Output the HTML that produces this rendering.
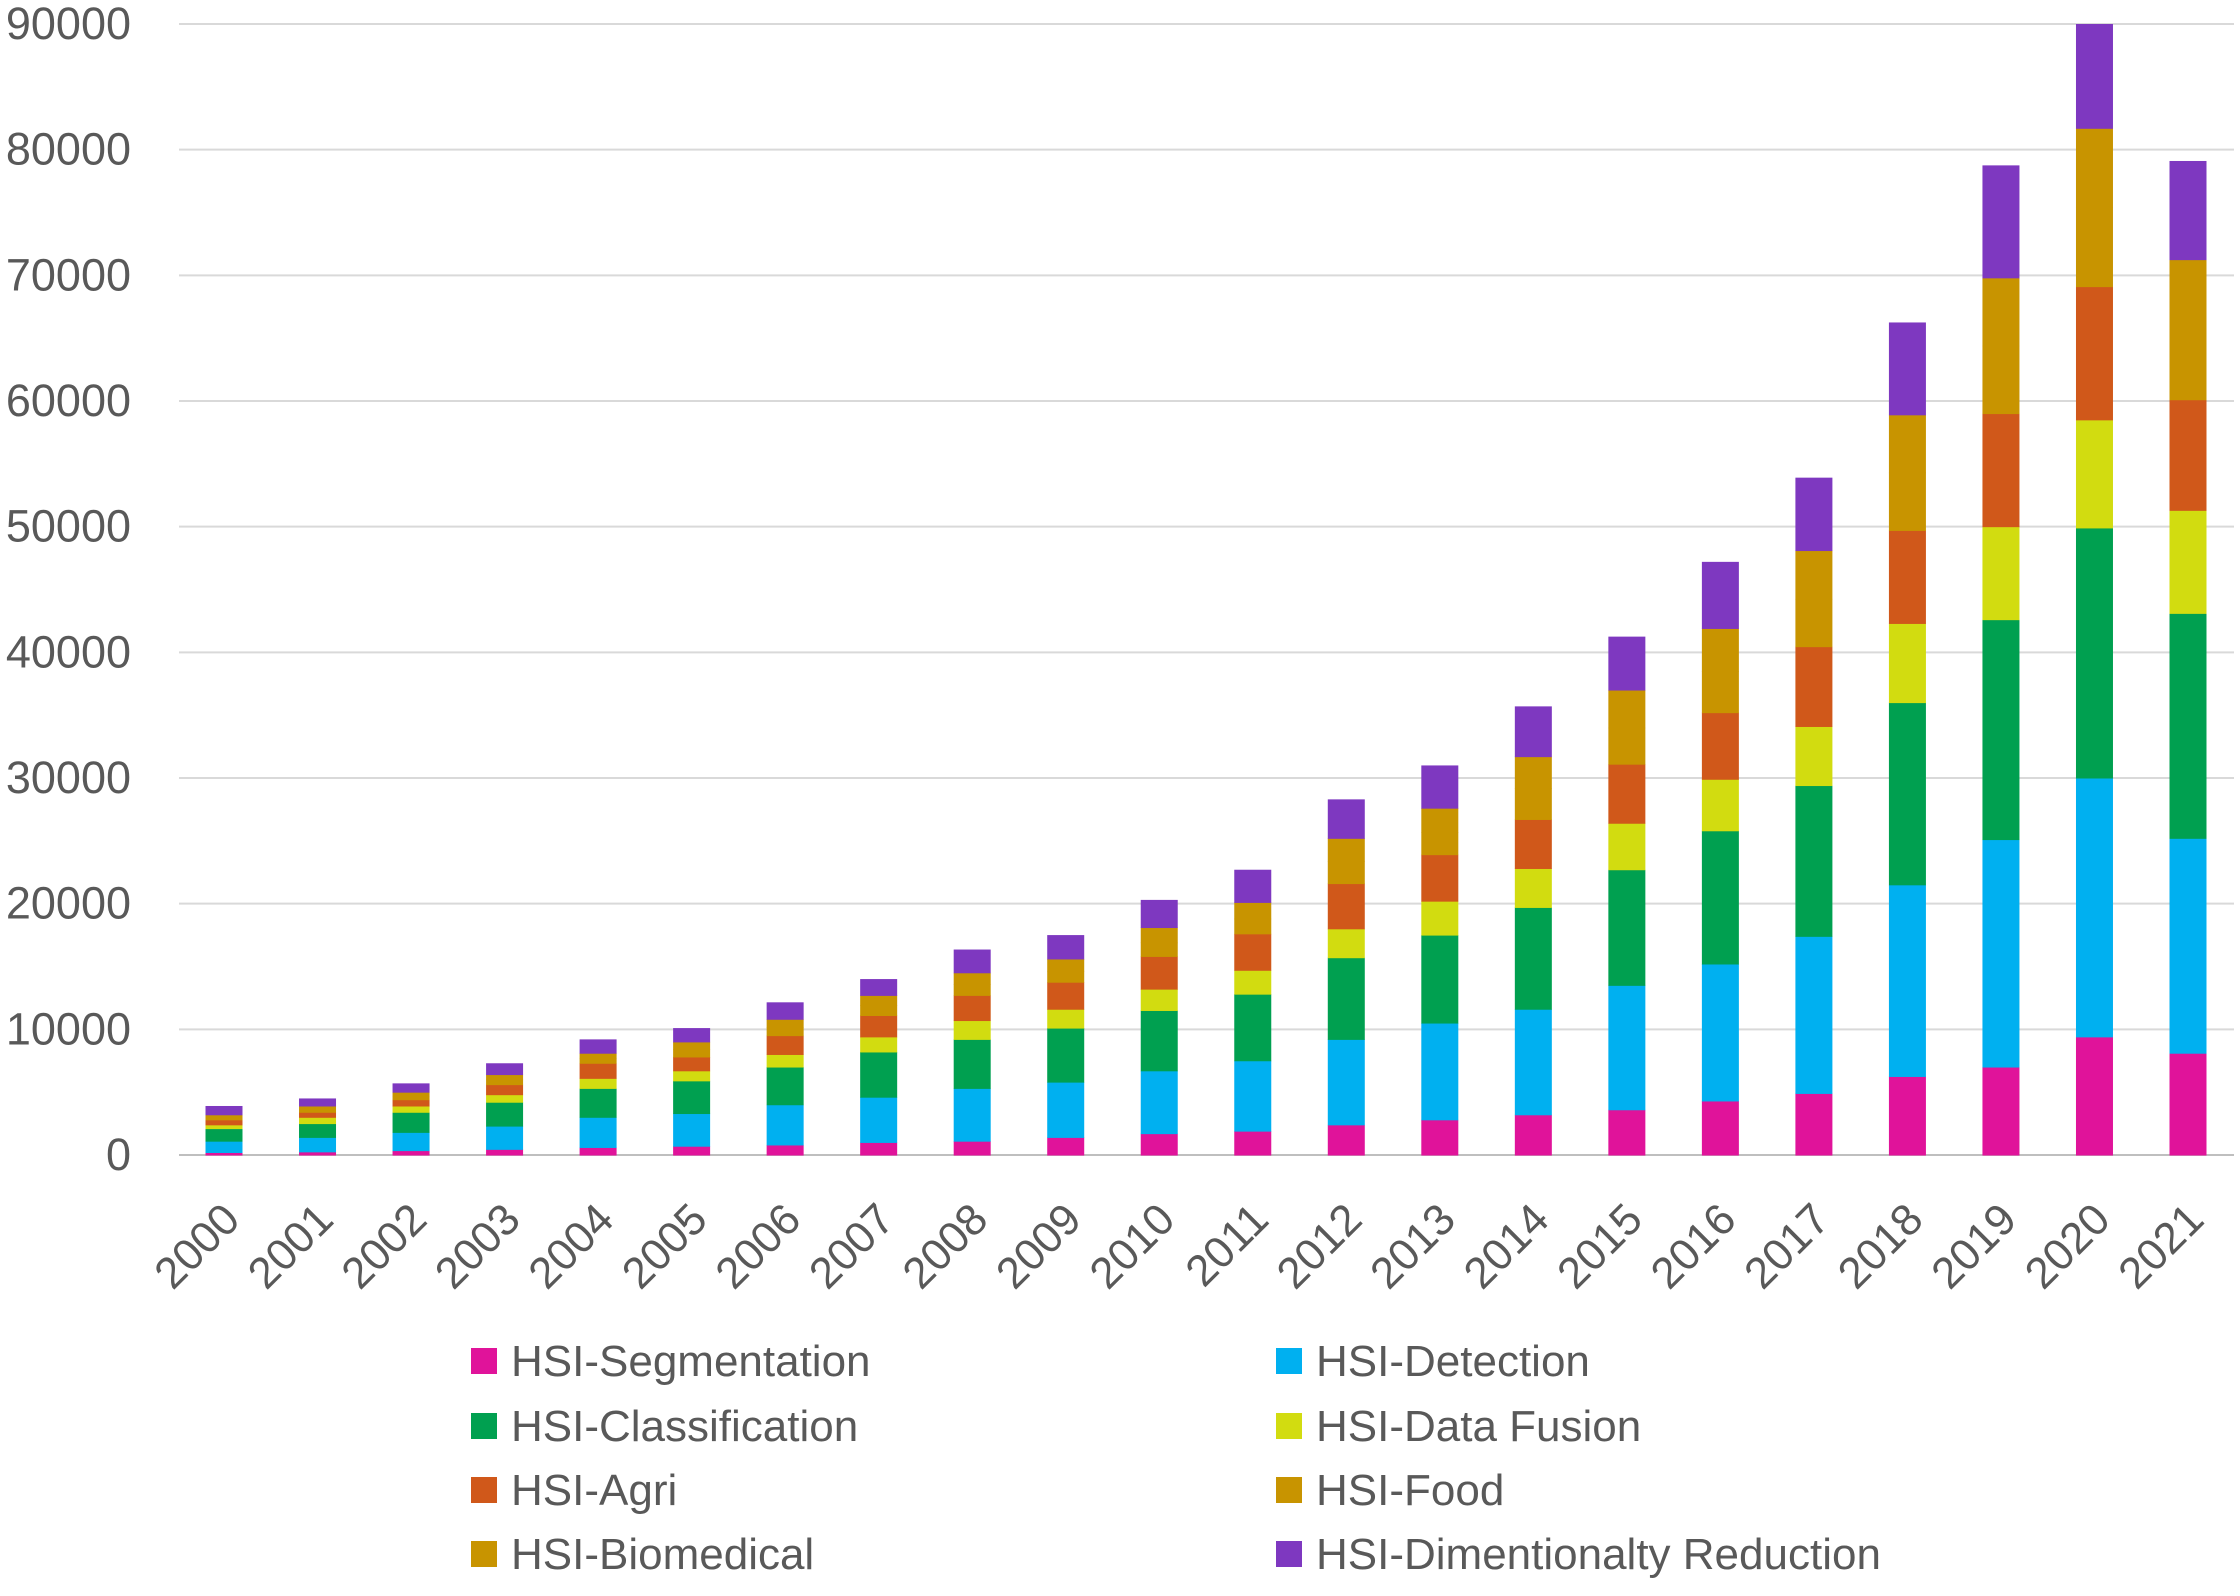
<!DOCTYPE html>
<html><head><meta charset="utf-8"><style>
body{margin:0;background:#fff;}
svg{display:block;font-family:"Liberation Sans",sans-serif;}
</style></head><body>
<svg id="chart" width="2240" height="1596" viewBox="0 0 2240 1596" xmlns="http://www.w3.org/2000/svg"></svg>
<script>
const years=["2000","2001","2002","2003","2004","2005","2006","2007","2008","2009","2010","2011","2012","2013","2014","2015","2016","2017","2018","2019","2020","2021"];
const yTicks=[0,10000,20000,30000,40000,50000,60000,70000,80000,90000];
const seriesNames=["HSI-Segmentation","HSI-Detection","HSI-Classification","HSI-Data Fusion","HSI-Agri","HSI-Food","HSI-Biomedical","HSI-Dimentionalty Reduction"];
const segmentation=[200,250,350,450,600,700,800,1000,1100,1400,1700,1900,2400,2800,3200,3600,4300,4900,6250,7000,9400,8100];
const detection=[900,1150,1450,1850,2400,2600,3200,3600,4200,4400,5000,5600,6800,7700,8400,9900,10900,12500,15250,18100,20600,17100];
const classification=[1000,1100,1600,1900,2300,2600,3000,3600,3900,4300,4800,5300,6500,7000,8100,9200,10600,12000,14500,17500,19900,17900];
const dataFusion=[300,500,500,600,800,800,1000,1200,1500,1500,1700,1900,2300,2700,3100,3700,4100,4700,6300,7400,8600,8200];
const agri=[400,400,500,800,1200,1100,1500,1700,2000,2150,2600,2900,3600,3700,3900,4700,5300,6350,7400,9000,10600,8800];
const food=[200,250,300,400,400,600,650,800,900,900,1100,1200,1800,1800,2500,2900,3300,3800,4600,5400,6300,5600];
const biomedical=[200,250,300,400,400,600,650,800,900,950,1200,1300,1800,1900,2500,3000,3400,3850,4600,5400,6300,5550];
const dimReduction=[700,600,700,900,1100,1100,1350,1300,1850,1900,2200,2600,3100,3400,4000,4250,5300,5800,7350,8950,8300,7850];

const series=[segmentation,detection,classification,dataFusion,agri,food,biomedical,dimReduction];
const colors=["#e0139a","#00b0f0","#00a050","#d2dc10","#d0581a","#c89400","#c89400","#7e38c0"];
const NS="http://www.w3.org/2000/svg";
const svg=document.getElementById('chart');
const plotL=179,plotR=2234,y0=1155,yTop=24,yMax=90000;
const y=v=>y0-(v/yMax)*(y0-yTop);
const step=(2188-224)/(years.length-1);
const xc=i=>224+i*step;
const barW=37;
function mk(t,a){const e=document.createElementNS(NS,t);for(const k in a)e.setAttribute(k,a[k]);svg.appendChild(e);return e;}
yTicks.forEach(v=>{
  const g=mk('line',{x1:plotL,x2:plotR,y1:y(v),y2:y(v),stroke:v===0?'#bfbfbf':'#d9d9d9','stroke-width':2});
  
  
  const t=mk('text',{x:131,y:y(v)+15,'text-anchor':'end','font-size':45,fill:'#595959'});
  t.textContent=v;
  
  
});
years.forEach((yr,i)=>{
  let cum=0;
  series.forEach((s,k)=>{
    const r=mk('rect',{x:xc(i)-barW/2,y:y(cum+s[i]),width:barW,height:y(cum)-y(cum+s[i])+0.5,fill:colors[k]});
    
    
    cum+=s[i];
  });
  const t=mk('text',{x:0,y:0,'text-anchor':'end','font-size':44,fill:'#595959',transform:`translate(${xc(i)+18},${1222}) rotate(-45)`});
  t.textContent=yr;
  
  
});
const legendPos=[[471,1361],[1276,1361],[471,1426],[1276,1426],[471,1490],[1276,1490],[471,1554],[1276,1554]];
const legendOrder=[0,1,2,3,4,5,6,7];
legendOrder.forEach((k,j)=>{
  const [lx,ly]=legendPos[j];
  const r=mk('rect',{x:lx,y:ly-13,width:26,height:26,fill:colors[k]});
  
  
  const t=mk('text',{x:lx+40,y:ly+15,'font-size':44,fill:'#595959'});
  t.textContent=seriesNames[k];
  
  
});
</script>
</body></html>
